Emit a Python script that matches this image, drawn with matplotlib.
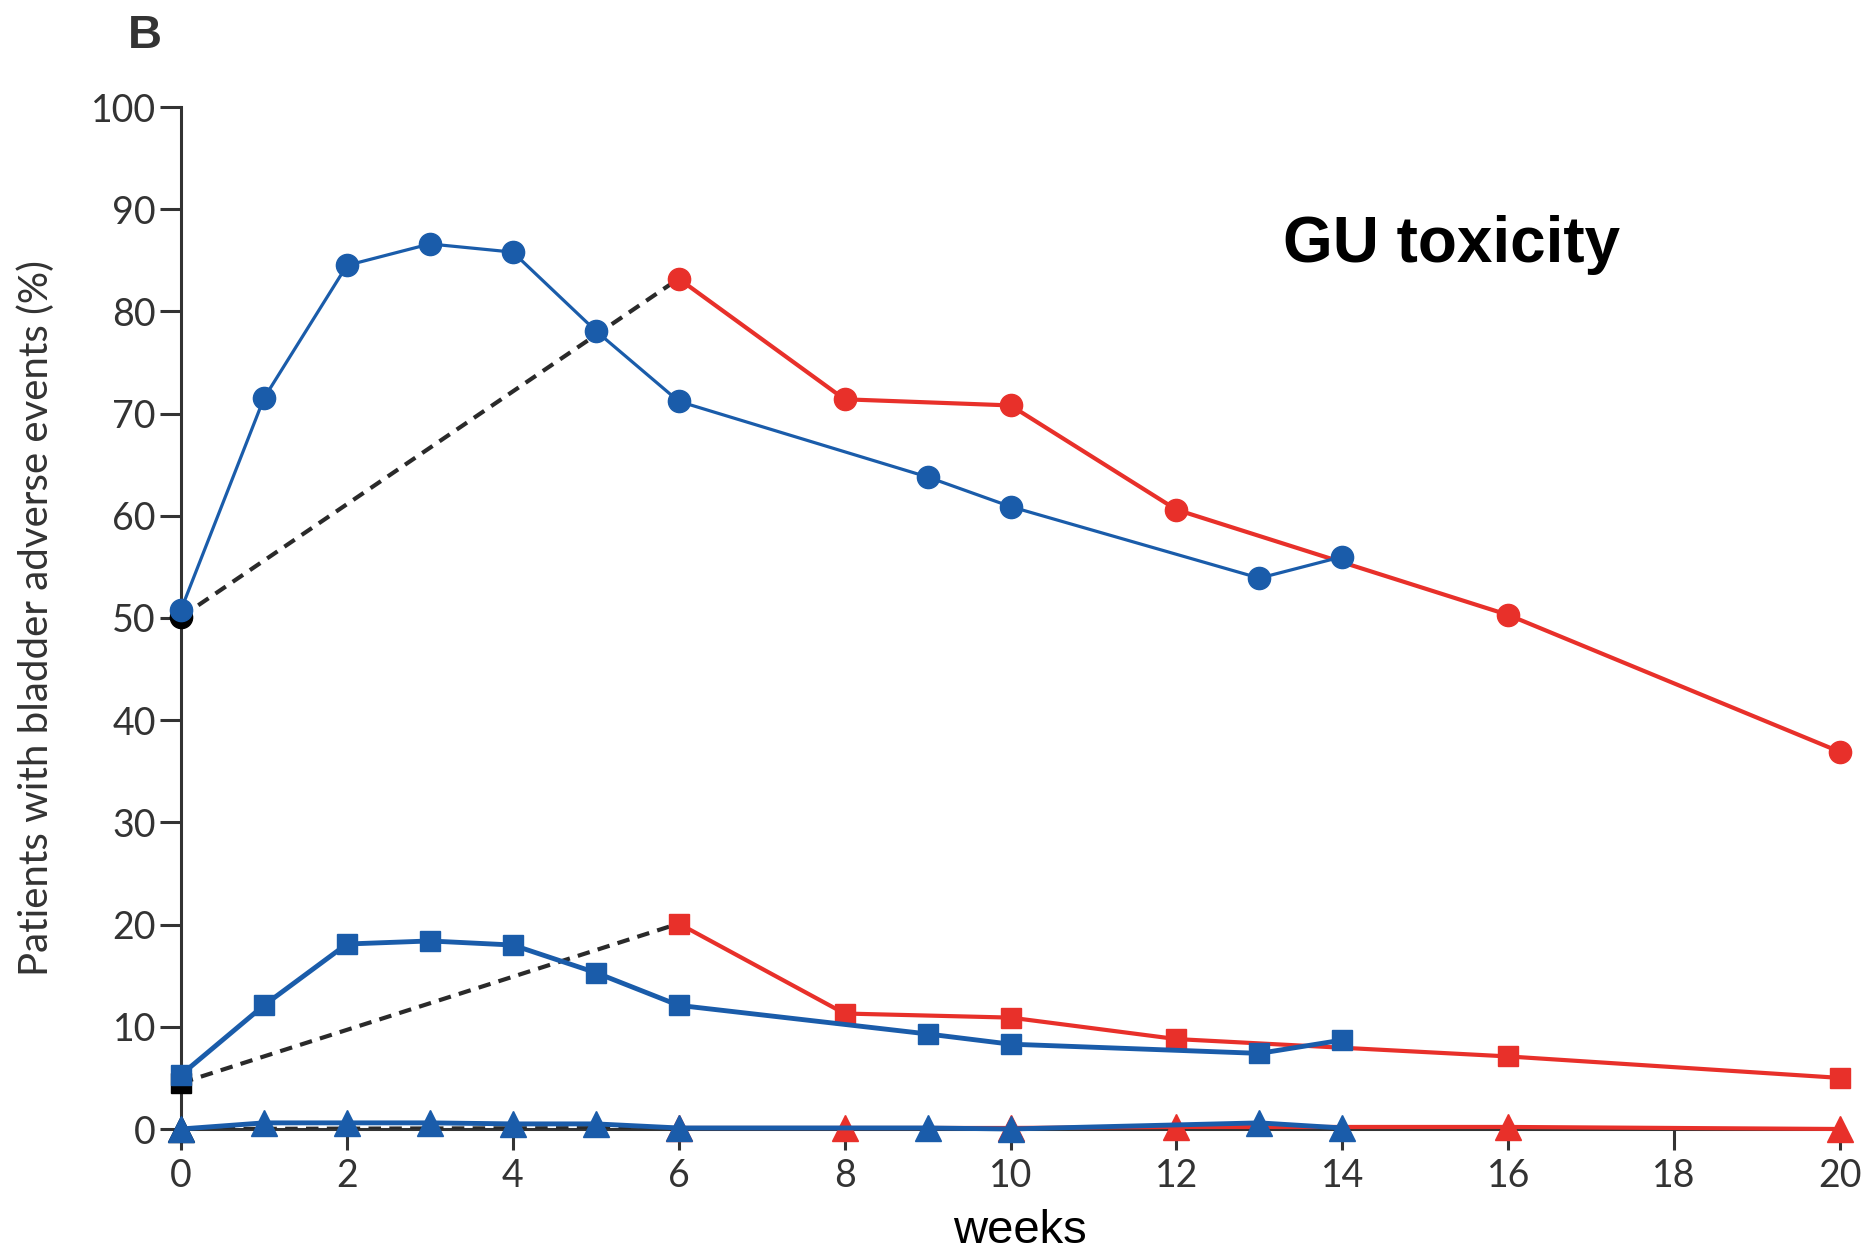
import matplotlib
matplotlib.use('Agg')
import matplotlib.pyplot as plt

# blue arm (weeks 0-14)
blue_weeks = [0, 1, 2, 3, 4, 5, 6, 9, 10, 13, 14]
blue_any = [50.8, 71.5, 84.5, 86.6, 85.8, 78.1, 71.2, 63.8, 60.9, 53.9, 56.0]
blue_g2 = [5.3, 12.1, 18.1, 18.4, 18.0, 15.3, 12.1, 9.3, 8.3, 7.4, 8.7]
blue_g3 = [0.0, 0.6, 0.6, 0.6, 0.5, 0.5, 0.1, 0.1, 0.0, 0.6, 0.1]

# red arm (weeks 6-20)
red_weeks = [6, 8, 10, 12, 16, 20]
red_any = [83.2, 71.4, 70.8, 60.6, 50.3, 36.9]
red_g2 = [20.1, 11.3, 10.9, 8.8, 7.1, 5.0]
red_g3 = [0.1, 0.1, 0.1, 0.2, 0.2, 0.0]

# dashed baseline links
link_weeks = [0, 6]
link_any = [50.1, 83.2]
link_g2 = [4.5, 20.1]
link_g3 = [0.0, 0.1]

BLUE = '#1a5caa'
RED = '#e8302a'
GREY = '#333333'

fig = plt.figure(figsize=(18.7, 12.56), dpi=100)
ax = fig.add_axes([181 / 1870, 1 - 1129 / 1256, 1659 / 1870, 1022 / 1256])

for ys in (link_any, link_g2, link_g3):
    ax.plot(link_weeks, ys, color='#2a2a2a', lw=3.0, ls=(0, (3, 2)), zorder=2)
ax.plot([0], [link_any[0]], 'o', color='black', ms=16, zorder=2, clip_on=False)
ax.plot([0], [link_g2[0]], 's', color='black', ms=14, zorder=2, clip_on=False)
ax.plot([0], [link_g3[0]], '^', color='black', ms=19, zorder=2, clip_on=False)

ax.plot(red_weeks, red_any, '-o', color=RED, lw=3.0, ms=16, zorder=3, clip_on=False)
ax.plot(red_weeks, red_g2, '-s', color=RED, lw=3.0, ms=14, zorder=3, clip_on=False)
ax.plot(blue_weeks, blue_any, '-o', color=BLUE, lw=2.3, ms=16, zorder=4, clip_on=False)
ax.plot(blue_weeks, blue_g2, '-s', color=BLUE, lw=3.5, ms=14, zorder=4, clip_on=False)
ax.plot(red_weeks, red_g3, '-^', color=RED, lw=3.0, ms=19, zorder=4, clip_on=False)
ax.plot(blue_weeks, blue_g3, '-^', color=BLUE, lw=3.5, ms=19, zorder=5, clip_on=False)

ax.set_xlim(0, 20)
ax.set_ylim(0, 100)
ax.set_xticks(range(0, 21, 2))
ax.set_yticks(range(0, 101, 10))
for s in ('top', 'right'):
    ax.spines[s].set_visible(False)
for s in ('left', 'bottom'):
    ax.spines[s].set_linewidth(2.2)
    ax.spines[s].set_color(GREY)
    ax.spines[s].set_zorder(1)
ax.tick_params(axis='both', length=15, width=2.2, color=GREY, labelcolor=GREY,
               labelsize=27)
ax.tick_params(axis='x', pad=6)
ax.tick_params(axis='y', pad=3)
for lab in ax.get_xticklabels() + ax.get_yticklabels():
    lab.set_family('Lato')

ax.set_ylabel('Patients with bladder adverse events (%)', fontsize=29,
              family='Lato', color=GREY, labelpad=26)

fig.text(1020 / 1870, 1 - 1243 / 1256, 'weeks', fontsize=34,
         family='Liberation Sans', color='black', ha='center', va='baseline')
fig.text(1283 / 1870, 1 - 262 / 1256, 'GU toxicity', fontsize=46,
         fontweight='bold', family='Liberation Sans', va='baseline')
fig.text(128 / 1870, 1 - 48 / 1256, 'B', fontsize=34, fontweight='bold',
         family='Liberation Sans', color=GREY, va='baseline')

fig.savefig('out.png', dpi=100)
